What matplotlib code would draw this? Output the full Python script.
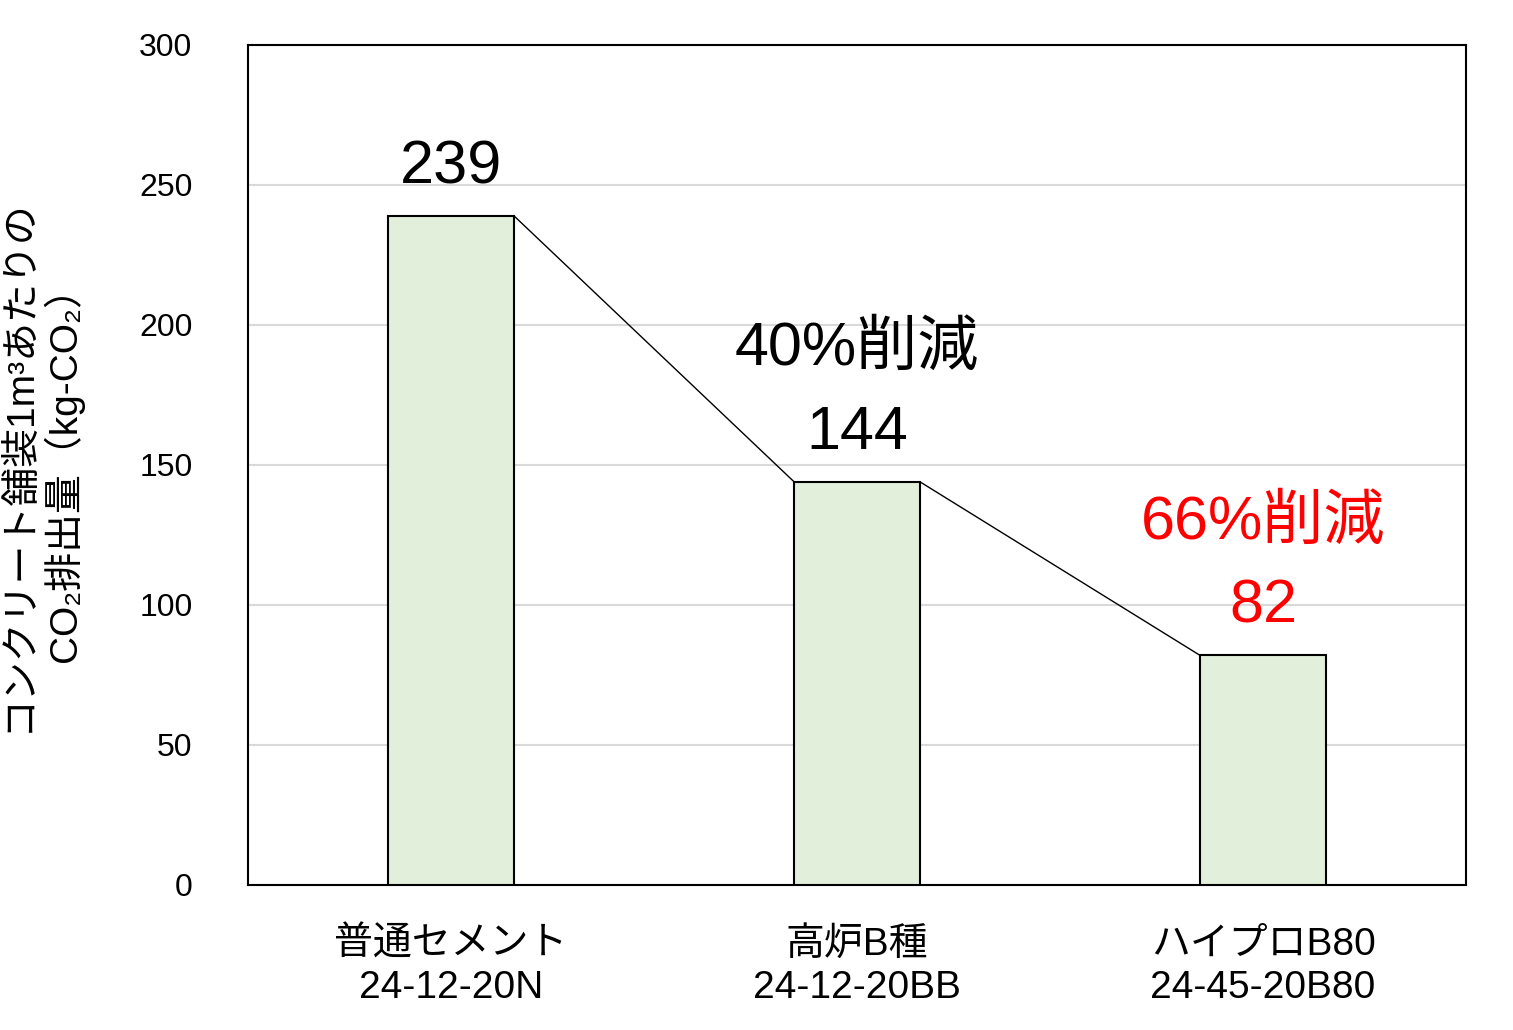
import matplotlib
matplotlib.use("Agg")
import matplotlib.pyplot as plt

categories = ["普通セメント\n24-12-20N", "高炉B種\n24-12-20BB", "ハイプロB80\n24-45-20B80"]
values = [239, 144, 82]
reductions = [None, "40%削減", "66%削減"]
label_colors = ["black", "black", "#FF0000"]

plt.rcParams["font.family"] = ["Liberation Sans", "Noto Sans CJK JP", "DejaVu Sans"]

fig = plt.figure(figsize=(15.13, 10.30), dpi=100)
ax = fig.add_axes([248 / 1513, 1 - 885 / 1030, 1218 / 1513, 840 / 1030])

x = list(range(len(values)))
w = 0.31
ax.bar(x, values, width=w, color="#E2EFDA", edgecolor="black", linewidth=1.5, zorder=3)

# connector lines between bar tops
for i in range(len(values) - 1):
    ax.plot([x[i] + w / 2, x[i + 1] - w / 2], [values[i], values[i + 1]],
            color="black", linewidth=1, zorder=4)

for i, v in enumerate(values):
    ax.text(x[i], v + 7, str(v), ha="center", va="bottom", fontsize=44, color=label_colors[i])
    if reductions[i]:
        ax.text(x[i], v + 37, reductions[i], ha="center", va="bottom", fontsize=44, color=label_colors[i])

ax.set_xlim(-0.5, 2.5)
ax.set_ylim(0, 300)
ax.set_yticks(range(0, 301, 50))
ax.yaxis.grid(True, color="#D9D9D9", linewidth=1.5, zorder=0)
ax.set_axisbelow(True)
ax.set_xticks(x)
ax.set_xticklabels(categories, fontsize=28, linespacing=1.25)
ax.tick_params(axis="y", labelsize=23, length=0, pad=40)
ax.tick_params(axis="x", length=0, pad=30)
for s in ax.spines.values():
    s.set_linewidth(1.5)
    s.set_color("black")

ax.set_ylabel("コンクリート舗装1m³あたりの\nCO₂排出量（kg-CO₂）", fontsize=28, linespacing=1.15, labelpad=40)

fig.savefig("out.png", dpi=100)
